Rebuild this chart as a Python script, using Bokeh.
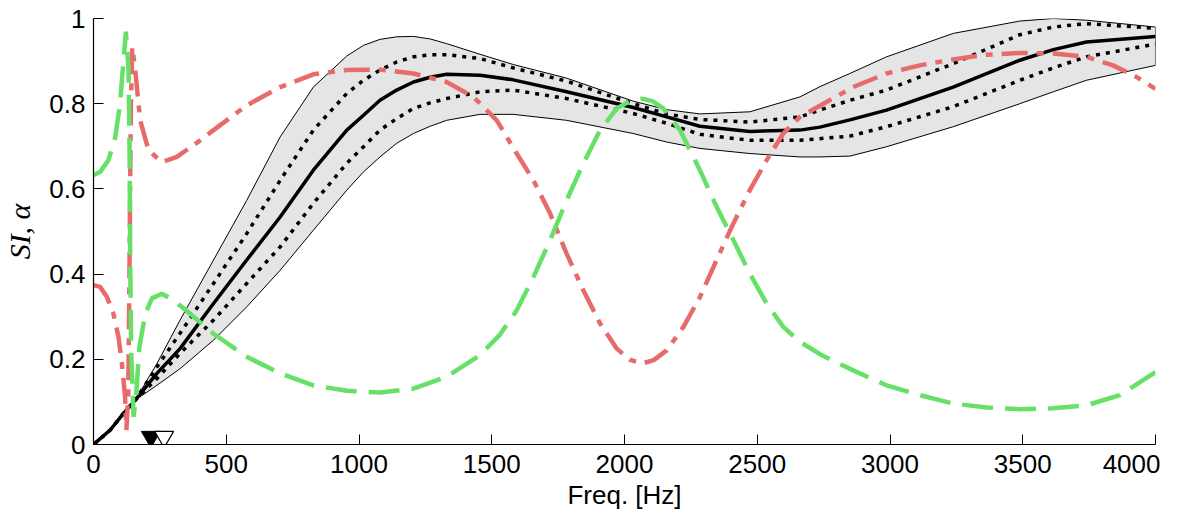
from bokeh.plotting import figure
from bokeh.models import FixedTicker, CustomJSTickFormatter, Range1d
from bokeh.embed import file_html
from bokeh.resources import INLINE

# ---- data ----
band_freq = [0, 63, 113, 157, 239, 326, 452, 577, 703, 828, 954, 1017, 1079, 1142, 1205,
             1268, 1330, 1456, 1581, 1782, 2033, 2159, 2284, 2472, 2661, 2736, 2849, 2987,
             3238, 3489, 3615, 3740, 4000]
mean_si = [0, 0.034, 0.073, 0.104, 0.167, 0.225, 0.331, 0.433, 0.534, 0.644, 0.738,
           0.773, 0.808, 0.832, 0.851, 0.862, 0.869, 0.867, 0.856, 0.828, 0.791, 0.769,
           0.747, 0.735, 0.738, 0.745, 0.762, 0.785, 0.839, 0.902, 0.927, 0.945, 0.958]
dot_upper = [0, 0.034, 0.073, 0.104, 0.182, 0.261, 0.378, 0.495, 0.620, 0.738, 0.824,
             0.855, 0.879, 0.898, 0.910, 0.915, 0.915, 0.906, 0.884, 0.853, 0.800, 0.776,
             0.763, 0.757, 0.769, 0.785, 0.808, 0.832, 0.894, 0.962, 0.980, 0.988, 0.977]
dot_lower = [0, 0.034, 0.073, 0.104, 0.155, 0.214, 0.292, 0.378, 0.464, 0.566, 0.660,
             0.699, 0.738, 0.765, 0.789, 0.802, 0.812, 0.828, 0.832, 0.812, 0.777, 0.754,
             0.728, 0.714, 0.714, 0.718, 0.724, 0.746, 0.793, 0.855, 0.884, 0.910, 0.940]
band_upper = [0, 0.034, 0.073, 0.104, 0.190, 0.292, 0.433, 0.573, 0.722, 0.839, 0.912,
              0.937, 0.951, 0.957, 0.958, 0.952, 0.941, 0.916, 0.892, 0.860, 0.806, 0.786,
              0.776, 0.781, 0.816, 0.840, 0.871, 0.910, 0.965, 0.994, 1.0, 0.996, 0.980]
band_lower = [0, 0.034, 0.073, 0.104, 0.139, 0.178, 0.245, 0.323, 0.409, 0.503, 0.597,
              0.640, 0.675, 0.707, 0.730, 0.747, 0.761, 0.775, 0.775, 0.761, 0.730, 0.710,
              0.695, 0.683, 0.675, 0.675, 0.677, 0.699, 0.746, 0.800, 0.828, 0.855, 0.890]

red_freq = [0, 25, 50, 75, 94, 107, 119, 124, 131, 135, 138, 141, 146, 157, 176, 207,
            257, 314, 402, 452, 577, 703, 828, 954, 1079, 1205, 1330, 1431, 1519, 1594,
            1657, 1720, 1782, 1845, 1908, 1971, 2020, 2065, 2110, 2159, 2222, 2284, 2347,
            2410, 2472, 2535, 2598, 2661, 2736, 2861, 2987, 3112, 3238, 3364, 3489, 3615,
            3740, 3840, 3928, 4000]
red_alpha = [0.374, 0.370, 0.347, 0.307, 0.253, 0.190, 0.112, 0.034, 0.120, 0.370, 0.605,
             0.800, 0.933, 0.879, 0.761, 0.691, 0.663, 0.675, 0.714, 0.738, 0.796, 0.839,
             0.869, 0.879, 0.880, 0.871, 0.851, 0.816, 0.761, 0.683, 0.620, 0.542, 0.448,
             0.362, 0.284, 0.225, 0.199, 0.190, 0.198, 0.221, 0.276, 0.346, 0.433, 0.519,
             0.597, 0.667, 0.730, 0.769, 0.795, 0.839, 0.871, 0.890, 0.904, 0.915, 0.919,
             0.918, 0.910, 0.890, 0.863, 0.835]

green_freq = [0, 25, 56, 82, 100, 113, 122, 132, 136, 138, 142, 151, 161, 173, 195, 220,
              257, 301, 364, 452, 577, 703, 828, 954, 1079, 1205, 1330, 1456, 1531, 1594,
              1657, 1720, 1782, 1845, 1908, 1971, 2020, 2065, 2105, 2146, 2209, 2284, 2347,
              2410, 2472, 2535, 2598, 2661, 2736, 2861, 2987, 3112, 3238, 3364, 3489, 3615,
              3740, 3866, 4000]
green_alpha = [0.632, 0.640, 0.667, 0.722, 0.800, 0.902, 0.969, 0.879, 0.683, 0.448, 0.214,
               0.065, 0.119, 0.229, 0.307, 0.343, 0.354, 0.339, 0.307, 0.260, 0.206, 0.167,
               0.139, 0.126, 0.122, 0.131, 0.159, 0.210, 0.258, 0.315, 0.393, 0.480, 0.573,
               0.660, 0.738, 0.789, 0.806, 0.812, 0.806, 0.789, 0.738, 0.644, 0.558, 0.480,
               0.401, 0.331, 0.276, 0.241, 0.212, 0.174, 0.139, 0.116, 0.096, 0.087, 0.083,
               0.085, 0.092, 0.116, 0.170]

marker_freq = [216, 266]
marker_y = [0.018, 0.018]

x_ticks = [0, 500, 1000, 1500, 2000, 2500, 3000, 3500, 4000]
y_ticks = [0, 0.2, 0.4, 0.6, 0.8, 1]

# ---- figure ----
p = figure(frame_width=1062, frame_height=426, output_backend="svg", toolbar_location=None,
           x_range=Range1d(0, 4000), y_range=Range1d(0, 1),
           min_border_left=85, min_border_right=5, min_border_top=18,
           min_border_bottom=60)
p.outline_line_color = None
p.grid.visible = False
p.background_fill_color = "white"
p.border_fill_color = "white"

# band
p.patch(band_freq + band_freq[::-1], band_upper + band_lower[::-1],
        fill_color="#E5E5E5", line_color="black", line_width=1)
# dotted bounds
p.line(band_freq, dot_upper, line_color="black", line_width=3.5, line_dash="4 6")
p.line(band_freq, dot_lower, line_color="black", line_width=3.5, line_dash="4 6")
# mean
p.line(band_freq, mean_si, line_color="black", line_width=3.5)
# alpha curves
p.line(red_freq, red_alpha, line_color="#E86B6B", line_width=4.5, line_dash="26 9 7 9")
p.line(green_freq, green_alpha, line_color="#66E066", line_width=4.5, line_dash="31 12")

# markers
p.scatter([marker_freq[0]], [marker_y[0]], marker="inverted_triangle", size=19,
          fill_color="black", line_color="black")
p.scatter([marker_freq[1]], [marker_y[1]], marker="inverted_triangle", size=19,
          fill_color="white", line_color="black", line_width=1.2)

# axes
for ax in (p.xaxis[0], p.yaxis[0]):
    ax.major_tick_in = 10
    ax.major_tick_out = 0
    ax.minor_tick_in = 0
    ax.minor_tick_out = 0
    ax.axis_line_color = "black"
    ax.axis_line_width = 1.2
    ax.major_tick_line_color = "black"
    ax.major_label_text_font = "Liberation Sans"
    ax.major_label_text_font_size = "26px"
    ax.major_label_text_color = "black"
    ax.axis_label_text_color = "black"

p.xaxis.ticker = FixedTicker(ticks=x_ticks)
p.yaxis.ticker = FixedTicker(ticks=y_ticks)
p.yaxis.formatter = CustomJSTickFormatter(code="return tick.toString();")
p.xaxis.major_label_standoff = 10
p.yaxis.major_label_standoff = 8

p.xaxis.axis_label = "Freq. [Hz]"
p.xaxis.axis_label_text_font = "Liberation Sans"
p.xaxis.axis_label_text_font_style = "normal"
p.xaxis.axis_label_text_font_size = "26px"
p.xaxis.axis_label_standoff = 4

p.yaxis.axis_label = "SI, α"
p.yaxis.axis_label_text_font = "Liberation Serif"
p.yaxis.axis_label_text_font_style = "italic"
p.yaxis.axis_label_text_font_size = "30px"
p.yaxis.axis_label_standoff = 10

open("out.html", "w").write(file_html(p, INLINE))
